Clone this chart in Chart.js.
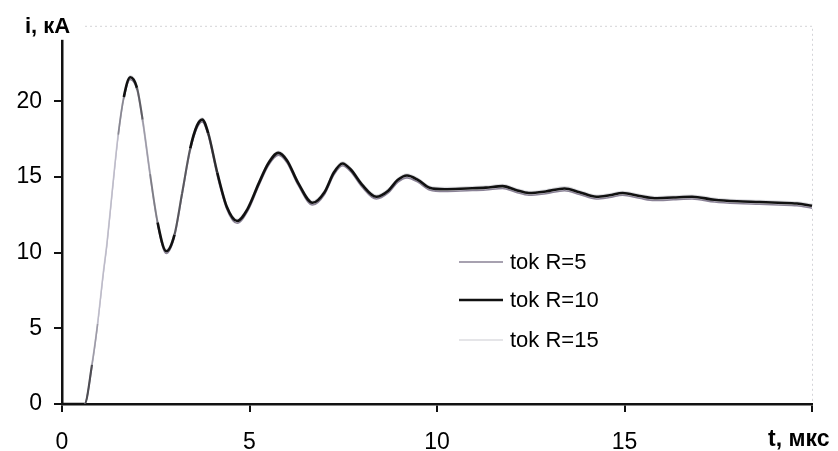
<!DOCTYPE html>
<html>
<head>
<meta charset="utf-8">
<script src="https://cdn.jsdelivr.net/npm/chart.js@4/dist/chart.umd.min.js"></script>
<style>
  html, body { margin: 0; padding: 0; background: #fff; }
  #wrap { width: 838px; height: 451px; }
</style>
</head>
<body>
<div id="wrap"><canvas id="c" width="838" height="451"></canvas></div>
<script>
// Time, µs
const times = [0, 0.6, 0.8, 0.95, 1.1, 1.2, 1.33, 1.5, 1.65, 1.82,
  2.0, 2.15, 2.35, 2.55, 2.78, 3.0, 3.2, 3.42, 3.6, 3.74,
  3.9, 4.14, 4.4, 4.67, 4.95, 5.25, 5.5, 5.77, 6.0, 6.3,
  6.68, 7.0, 7.25, 7.48, 7.7, 8.0, 8.38, 8.7, 8.95, 9.2,
  9.5, 9.8, 10.2, 10.8, 11.3, 11.75, 12.1, 12.45, 12.9, 13.4,
  13.8, 14.25, 14.6, 14.95, 15.4, 15.8, 16.3, 16.8, 17.4, 18.0,
  18.6, 19.1, 19.6, 20.0];

// Current, kA, for each resistance
const tokR5 = [0, 0, 2.5, 5.2, 8.5, 10.5, 13.7, 17.7, 20.2, 21.45,
  20.75, 18.6, 15.0, 11.85, 9.95, 11.05, 13.75, 16.75, 18.25, 18.65,
  17.75, 15.1, 12.85, 11.95, 12.75, 14.45, 15.75, 16.45, 15.95, 14.45,
  13.15, 13.85, 15.15, 15.75, 15.35, 14.35, 13.55, 13.95, 14.65, 14.95,
  14.65, 14.15, 14.05, 14.1, 14.15, 14.25, 14.0, 13.8, 13.9, 14.1,
  13.85, 13.55, 13.65, 13.8, 13.6, 13.45, 13.5, 13.55, 13.35, 13.25,
  13.2, 13.15, 13.1, 12.95];

const tokR10 = [0, 0, 2.6, 5.3, 8.6, 10.6, 13.8, 17.8, 20.3, 21.6,
  20.9, 18.8, 15.2, 12.0, 10.1, 11.2, 13.9, 16.9, 18.4, 18.8,
  17.9, 15.3, 13.0, 12.1, 12.9, 14.6, 15.9, 16.6, 16.1, 14.6,
  13.3, 14.0, 15.3, 15.9, 15.5, 14.5, 13.7, 14.1, 14.8, 15.1,
  14.8, 14.3, 14.2, 14.25, 14.3, 14.4, 14.15, 13.95, 14.05, 14.25,
  14.0, 13.7, 13.8, 13.95, 13.75, 13.6, 13.65, 13.7, 13.5, 13.4,
  13.35, 13.3, 13.25, 13.1];

const tokR15 = [0, 0, 2.7, 5.4, 8.7, 10.7, 13.9, 17.9, 20.4, 21.7,
  21.0, 18.9, 15.3, 12.1, 10.2, 11.3, 14.0, 17.0, 18.5, 18.9,
  18.0, 15.4, 13.1, 12.2, 13.0, 14.7, 16.0, 16.7, 16.2, 14.7,
  13.4, 14.1, 15.4, 16.0, 15.6, 14.6, 13.8, 14.2, 14.9, 15.2,
  14.9, 14.4, 14.3, 14.35, 14.4, 14.5, 14.25, 14.05, 14.15, 14.35,
  14.1, 13.8, 13.9, 14.05, 13.85, 13.7, 13.75, 13.8, 13.6, 13.5,
  13.45, 13.4, 13.35, 13.2];

const seriesLabels = ['tok R=5', 'tok R=10', 'tok R=15'];
const xTickLabels = [0, 5, 10, 15];
const yTickLabels = [0, 5, 10, 15, 20];
const xTitle = 't, мкс';
const yTitle = 'i, кА';

const FONT = "'Liberation Sans', Arial, sans-serif";

function pts(vals) {
  return times.map((t, k) => ({ x: t, y: vals[k] }));
}

// steep parts of the traces print thinner and paler
function slopeOf(ctx) {
  const a = ctx.p0.parsed, b = ctx.p1.parsed;
  return Math.abs((b.y - a.y) / (b.x - a.x));
}
function fade(ctx) {
  const s = slopeOf(ctx);
  return Math.max(0, Math.min(1, (s - 9) / 11));
}
function mix(c0, c1, f) {
  const r = Math.round(c0[0] + (c1[0] - c0[0]) * f);
  const g = Math.round(c0[1] + (c1[1] - c0[1]) * f);
  const b = Math.round(c0[2] + (c1[2] - c0[2]) * f);
  return `rgb(${r},${g},${b})`;
}
function fadingSegment(dark, pale, w0, w1) {
  return {
    borderColor: (ctx) => mix(dark, pale, fade(ctx)),
    borderWidth: (ctx) => w0 + (w1 - w0) * fade(ctx)
  };
}

// Frame, axis captions and the in-plot legend
const decorations = {
  id: 'decorations',
  afterDraw(chart) {
    const ctx = chart.ctx;
    const a = chart.chartArea;
    ctx.save();
    // faint dotted top and right edges of the plot area
    ctx.strokeStyle = '#d4d4d8';
    ctx.lineWidth = 1;
    ctx.setLineDash([2, 3]);
    ctx.beginPath();
    ctx.moveTo(80, a.top + 0.5);
    ctx.lineTo(a.right + 0.5, a.top + 0.5);
    ctx.lineTo(a.right + 0.5, a.bottom - 2);
    ctx.stroke();
    ctx.setLineDash([]);

    // y axis caption on a white box over the axis top
    ctx.fillStyle = '#fff';
    ctx.fillRect(12, 6, 70, a.top + 14 - 6);
    ctx.fillStyle = '#000';
    ctx.font = 'bold 22px ' + FONT;
    ctx.textBaseline = 'alphabetic';
    ctx.textAlign = 'left';
    ctx.fillText(yTitle, 25, 33);

    // x axis caption at the right end
    ctx.font = 'bold 23px ' + FONT;
    ctx.fillText(xTitle, 768, 446);

    // legend
    ctx.font = '22px ' + FONT;
    ctx.textBaseline = 'middle';
    const rows = [262, 300, 340];
    chart.data.datasets.forEach((ds, k) => {
      const y = rows[k];
      ctx.strokeStyle = ds.borderColor;
      ctx.lineWidth = ds.borderWidth;
      ctx.beginPath();
      ctx.moveTo(459, y);
      ctx.lineTo(503, y);
      ctx.stroke();
      ctx.fillStyle = '#000';
      ctx.fillText(ds.label, 510, y + 1);
    });
    ctx.restore();
  }
};

new Chart(document.getElementById('c'), {
  type: 'line',
  data: {
    datasets: [
      { label: seriesLabels[0], data: pts(tokR5), borderColor: '#8a8296', borderWidth: 1.6, order: 1,
        segment: fadingSegment([138, 130, 150], [208, 206, 218], 1.6, 1.2) },
      { label: seriesLabels[1], data: pts(tokR10), borderColor: '#111111', borderWidth: 2.6, order: 0,
        segment: fadingSegment([17, 17, 17], [188, 186, 200], 2.6, 1.3) },
      { label: seriesLabels[2], data: pts(tokR15), borderColor: '#dcdce0', borderWidth: 1.6, order: 2 }
    ]
  },
  options: {
    responsive: false,
    animation: false,
    elements: {
      point: { radius: 0 },
      line: { cubicInterpolationMode: 'monotone', fill: false }
    },
    layout: { padding: { top: 23, right: 26, left: 0, bottom: 0 } },
    plugins: { legend: { display: false }, tooltip: { enabled: false } },
    scales: {
      x: {
        type: 'linear',
        min: 0, max: 20,
        border: { display: true, color: '#111', width: 2.5 },
        grid: { display: true, drawOnChartArea: false, drawTicks: true, tickLength: 8, color: '#111', lineWidth: 2 },
        ticks: {
          stepSize: 5,
          padding: 17,
          color: '#000',
          font: { family: FONT, size: 23 },
          maxRotation: 0,
          callback: (v) => xTickLabels.includes(v) ? String(v) : ''
        },
        afterFit: (s) => { s.height = 47; }
      },
      y: {
        type: 'linear',
        min: 0, max: 25,
        border: { display: true, color: '#111', width: 2.5 },
        grid: { display: true, drawOnChartArea: false, drawTicks: true, tickLength: 8, color: '#111', lineWidth: 2 },
        ticks: {
          stepSize: 5,
          padding: 12,
          color: '#000',
          font: { family: FONT, size: 23 },
          callback: (v) => yTickLabels.includes(v) ? String(v) : ''
        },
        afterFit: (s) => { s.width = 62; }
      }
    }
  },
  plugins: [decorations]
});
</script>
</body>
</html>
